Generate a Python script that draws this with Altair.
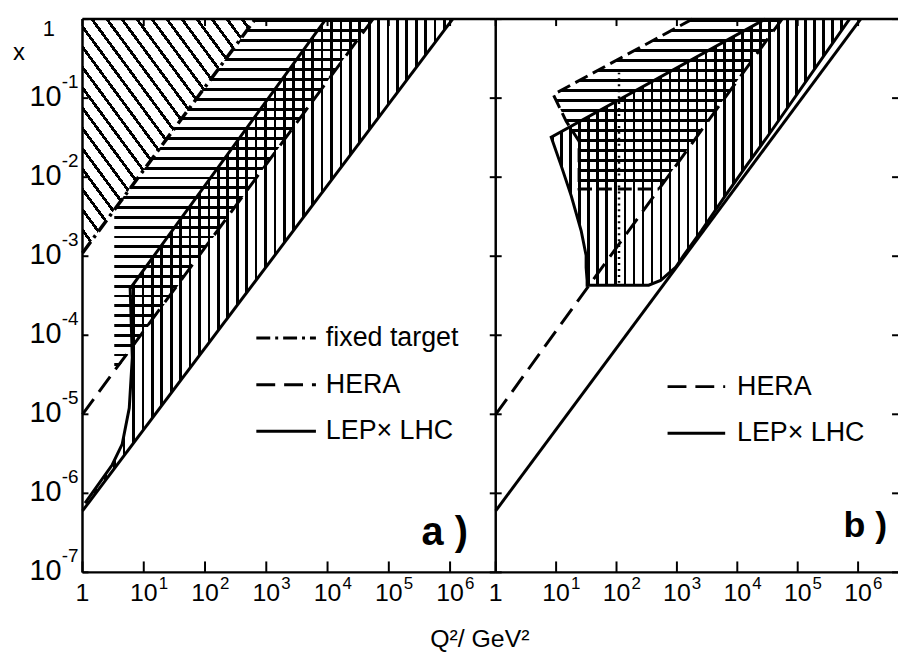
import altair as alt
import pandas as pd

# ---------------- values ----------------
q2_ticks = [1, 1e1, 1e2, 1e3, 1e4, 1e5, 1e6]
q2_tick_base = ["1", "10", "10", "10", "10", "10", "10"]
q2_tick_exp = ["", "1", "2", "3", "4", "5", "6"]

x_ticks = [1, 1e-1, 1e-2, 1e-3, 1e-4, 1e-5, 1e-6, 1e-7]
x_tick_base = ["1", "10", "10", "10", "10", "10", "10", "10"]
x_tick_exp = ["", "-1", "-2", "-3", "-4", "-5", "-6", "-7"]

# kinematic limits (straight lines in the log-log plane)
lep_limit_q2 = [1, 1.1e6]
lep_limit_x = [6e-7, 1]
hera_limit_q2 = [1, 5.5e4]
hera_limit_x = [1e-5, 1]
ft_limit_q2 = [1, 660]
ft_limit_x = [1.1e-3, 1]

# panel a) regions: rows of x, with left / right Q^2 boundary
ft_a_x = [1.1e-3, 1]
ft_a_lo = [1, 1]
ft_a_hi = [1, 660]

hera_a_x = [3.3e-5, 4e-3, 1]
hera_a_lo = [3.3, 3.3, 660]
hera_a_hi = [3.3, 300, 5.5e4]

lep_a_x = [7.5e-7, 2.3e-6, 4.2e-6, 1.2e-5, 5.2e-5, 3.9e-4, 1]
lep_a_lo = [1.1, 3.06, 4.45, 5.8, 6.5, 6.0, 9400]
lep_a_hi = [1.24, 3.7, 6.6, 18, 76, 540, 1.1e6]

# panel b) regions
lep_b_x = [4.3e-4, 4.95e-4, 7.2e-4, 1.02e-3, 2.1e-3, 5.8e-3, 0.0138, 0.032, 1]
lep_b_lo = [32.6, 32.6, 31.4, 31.4, 26, 17.8, 12.2, 8.3, 2.9e4]
lep_b_hi = [341, 537, 948, 1285, 2540, 6300, 1.4e4, 3.1e4, 7.2e5]

hera_b_x = [7.1e-3, 0.0285, 0.0508, 0.111, 1]
hera_b_lo = [24, 24, 14.7, 9.0, 1800]
hera_b_hi = [505, 1875, 3300, 6800, 5.5e4]

dotted_q2 = [110, 110]
dotted_x = [4.6e-4, 0.21]

legend_a = ["fixed target", "HERA", "LEP\u00d7 LHC"]
legend_b = ["HERA", "LEP\u00d7 LHC"]

# ---------------- layout / style ----------------
F = "Liberation Sans"
H = 557
WA, WB = 416, 405
QA, QB = 5.56e6, 4.58e6


def stripes(n, duty, x1, y1, x2, y2):
    clear = "rgba(255,255,255,0)"
    stops = []
    for i in range(n):
        a = round(i / n, 5)
        b = round((i + duty) / n, 5)
        stops += [alt.GradientStop(offset=a, color=clear),
                  alt.GradientStop(offset=a, color="black"),
                  alt.GradientStop(offset=b, color="black"),
                  alt.GradientStop(offset=b, color=clear)]
    stops.append(alt.GradientStop(offset=1, color=clear))
    return alt.LinearGradient(gradient="linear", stops=stops,
                              x1=x1, y1=y1, x2=x2, y2=y2)


def area(xb, lo, hi, fill, xs, ys):
    df = pd.DataFrame({"xb": xb, "lo": lo, "hi": hi})
    return alt.Chart(df).mark_area(orient="horizontal", fill=fill, fillOpacity=1).encode(
        y=alt.Y("xb:Q", scale=ys, axis=None),
        x=alt.X("lo:Q", scale=xs, axis=None),
        x2="hi:Q")


def poly(q2, xb, xs, ys, width=3.0, dash=None):
    df = pd.DataFrame({"q2": q2, "xb": xb, "i": list(range(len(q2)))})
    mk = dict(color="black", strokeWidth=width)
    if dash:
        mk["strokeDash"] = dash
    return alt.Chart(df).mark_line(**mk).encode(
        x=alt.X("q2:Q", scale=xs, axis=None),
        y=alt.Y("xb:Q", scale=ys, axis=None),
        order="i:Q")


def frame(xs, ys, qmax, width, left_from, left_to, right_ticks):
    tq = pd.DataFrame({"q2": q2_ticks})
    tx = pd.DataFrame({"xb": x_ticks})
    edge = pd.DataFrame({"q0": [1], "q1": [qmax], "x0": [1e-7], "x1": [1]})
    rule = dict(color="black", strokeWidth=2.5)
    layers = [
        alt.Chart(edge).mark_rule(**rule).encode(
            x=alt.X("q0:Q", scale=xs, axis=None),
            y=alt.Y("x0:Q", scale=ys, axis=None), y2="x1:Q"),
        alt.Chart(edge).mark_rule(**rule).encode(
            x=alt.X("q0:Q", scale=xs, axis=None), x2="q1:Q",
            y=alt.Y("x0:Q", scale=ys, axis=None)),
        alt.Chart(edge).mark_rule(**rule).encode(
            x=alt.X("q0:Q", scale=xs, axis=None), x2="q1:Q",
            y=alt.Y("x1:Q", scale=ys, axis=None)),
        alt.Chart(tq).mark_rule(color="black", strokeWidth=2).encode(
            x=alt.X("q2:Q", scale=xs, axis=None), y=alt.value(H), y2=alt.value(H - 11)),
        alt.Chart(tq).mark_rule(color="black", strokeWidth=2).encode(
            x=alt.X("q2:Q", scale=xs, axis=None), y=alt.value(0), y2=alt.value(7)),
        alt.Chart(tx).mark_rule(color="black", strokeWidth=2).encode(
            y=alt.Y("xb:Q", scale=ys, axis=None), x=alt.value(left_from), x2=alt.value(left_to)),
    ]
    if right_ticks:
        layers.append(alt.Chart(tx).mark_rule(color="black", strokeWidth=2).encode(
            y=alt.Y("xb:Q", scale=ys, axis=None), x=alt.value(width - 6), x2=alt.value(width)))
    return layers


def x_labels(xs):
    df = pd.DataFrame({"q2": q2_ticks, "base": q2_tick_base, "exp": q2_tick_exp})
    return [
        alt.Chart(df).mark_text(font=F, fontSize=25, align="center", baseline="middle").encode(
            x=alt.X("q2:Q", scale=xs, axis=None), y=alt.value(H + 21), text="base:N"),
        alt.Chart(df).mark_text(font=F, fontSize=17, align="left", baseline="middle", dx=15).encode(
            x=alt.X("q2:Q", scale=xs, axis=None), y=alt.value(H + 12), text="exp:N"),
    ]


def legend(labels, ys_px, styles, x0, x1, xt):
    out = []
    for lab, yy, dash in zip(labels, ys_px, styles):
        one = pd.DataFrame({"t": [lab]})
        mk = dict(color="black", strokeWidth=3)
        if dash:
            mk["strokeDash"] = dash
        out.append(alt.Chart(one).mark_rule(**mk).encode(
            x=alt.value(x0), x2=alt.value(x1), y=alt.value(yy)))
        out.append(alt.Chart(one).mark_text(font=F, fontSize=27, align="left",
                                            baseline="middle").encode(
            x=alt.value(xt), y=alt.value(yy), text="t:N"))
    return out


DASH_FT = [14, 5, 3, 5]
DASH_HERA = [19, 9]

# ---------------- panel a ----------------
xs_a = alt.Scale(type="log", domain=[1, QA], nice=False)
ys_a = alt.Scale(type="log", domain=[1e-7, 1], nice=False)

ylab = pd.DataFrame({"v": x_ticks[1:], "base": x_tick_base[1:], "exp": x_tick_exp[1:]})
yone = pd.DataFrame({"v": x_ticks[:1], "base": x_tick_base[:1]})

layers_a = [
    area(ft_a_x, ft_a_lo, ft_a_hi, stripes(23, 0.24, 0, 1, 1, 0), xs_a, ys_a),
    area(hera_a_x, hera_a_lo, hera_a_hi, stripes(36, 0.29, 0, 0, 0, 1), xs_a, ys_a),
    area(lep_a_x, lep_a_lo, lep_a_hi, stripes(39, 0.29, 0, 0, 1, 0), xs_a, ys_a),
    poly(ft_limit_q2, ft_limit_x, xs_a, ys_a, 3.5, DASH_FT),
    poly(hera_limit_q2, hera_limit_x, xs_a, ys_a, 3, DASH_HERA),
    poly(lep_limit_q2, lep_limit_x, xs_a, ys_a, 3),
    poly(lep_a_lo, lep_a_x, xs_a, ys_a, 3),
]
layers_a += frame(xs_a, ys_a, QA, WA, 0, 6, False)
layers_a += x_labels(xs_a)
layers_a += [
    alt.Chart(ylab).mark_text(font=F, fontSize=29, align="right", baseline="middle", dy=-1).encode(
        x=alt.value(-21), y=alt.Y("v:Q", scale=ys_a, axis=None), text="base:N"),
    alt.Chart(ylab).mark_text(font=F, fontSize=19, align="left", baseline="middle", dy=-16).encode(
        x=alt.value(-21), y=alt.Y("v:Q", scale=ys_a, axis=None), text="exp:N"),
    alt.Chart(yone).mark_text(font=F, fontSize=22, align="center", baseline="top").encode(
        x=alt.value(-34), y=alt.Y("v:Q", scale=ys_a, axis=None), text="base:N"),
    alt.Chart(pd.DataFrame({"t": ["x"]})).mark_text(font=F, fontSize=24, align="center",
                                                    baseline="middle").encode(
        x=alt.value(-64), y=alt.value(34), text="t:N"),
    alt.Chart(pd.DataFrame({"t": ["Q\u00b2/ GeV\u00b2"]})).mark_text(
        font=F, fontSize=25, align="center", baseline="middle").encode(
        x=alt.value(400), y=alt.value(624), text="t:N"),
    alt.Chart(pd.DataFrame({"t": ["a )"]})).mark_text(
        font=F, fontSize=40, fontWeight="bold", align="right", baseline="alphabetic").encode(
        x=alt.value(388), y=alt.value(529), text="t:N"),
]
layers_a += legend(legend_a, [321, 368, 415], [DASH_FT, DASH_HERA, None], 175, 235, 245)

panel_a = alt.layer(*layers_a).properties(width=WA, height=H)

# ---------------- panel b ----------------
xs_b = alt.Scale(type="log", domain=[1, QB], nice=False)
ys_b = alt.Scale(type="log", domain=[1e-7, 1], nice=False)

lep_b_outline_q2 = [lep_b_lo[-1]] + lep_b_lo[-2::-1] + lep_b_hi
lep_b_outline_x = [lep_b_x[-1]] + lep_b_x[-2::-1] + lep_b_x
hera_b_outline_q2 = [hera_b_lo[-1]] + hera_b_lo[-2::-1] + [hera_b_hi[0]]
hera_b_outline_x = [hera_b_x[-1]] + hera_b_x[-2::-1] + [hera_b_x[0]]

layers_b = [
    area(hera_b_x, hera_b_lo, hera_b_hi, stripes(17, 0.29, 0, 0, 0, 1), xs_b, ys_b),
    area(lep_b_x, lep_b_lo, lep_b_hi, stripes(33, 0.29, 0, 0, 1, 0), xs_b, ys_b),
    poly(hera_limit_q2, hera_limit_x, xs_b, ys_b, 3, DASH_HERA),
    poly(lep_limit_q2, lep_limit_x, xs_b, ys_b, 3),
    poly(lep_b_outline_q2, lep_b_outline_x, xs_b, ys_b, 3),
    poly(hera_b_outline_q2, hera_b_outline_x, xs_b, ys_b, 3, [14, 6]),
    poly(dotted_q2, dotted_x, xs_b, ys_b, 2.5, [2, 4]),
]
layers_b += frame(xs_b, ys_b, QB, WB, -6, 6, True)
layers_b += x_labels(xs_b)
layers_b += [
    alt.Chart(pd.DataFrame({"t": ["b )"]})).mark_text(
        font=F, fontSize=36, fontWeight="bold", align="right", baseline="alphabetic").encode(
        x=alt.value(394), y=alt.value(521), text="t:N"),
]
layers_b += legend(legend_b, [370, 417], [DASH_HERA, None], 173, 231, 243)

panel_b = alt.layer(*layers_b).properties(width=WB, height=H)

chart = alt.hconcat(panel_a, panel_b, spacing=0, bounds="flush").properties(
    padding={"left": 5, "top": 2, "right": 0, "bottom": 0}
).configure_view(strokeWidth=0)

chart.save("out.html", embed_options={"renderer": "svg", "actions": False})
